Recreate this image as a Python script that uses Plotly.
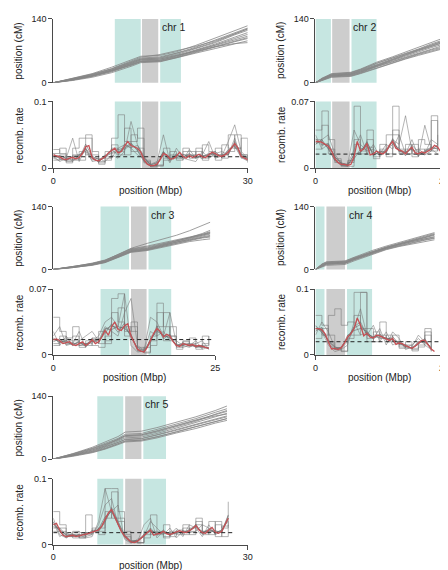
import numpy as np
import plotly.graph_objects as go

# ---------------- DATA ----------------
# genetic map position (cM) vs physical position (Mbp), several maps per chromosome
chr1_map_x = [0, 3, 6, 9, 12, 13.5, 16.5, 19, 22, 25, 28, 30]
chr1_maps = [
    [0, 8, 18, 30, 45, 52, 54, 62, 75, 88, 105, 115],
    [0, 6, 14, 25, 40, 47, 49, 58, 70, 82, 95, 102],
    [0, 10, 20, 34, 50, 58, 60, 68, 82, 98, 115, 125],
    [0, 7, 16, 27, 42, 50, 52, 60, 72, 85, 100, 110],
    [0, 5, 12, 22, 36, 44, 46, 54, 65, 75, 86, 92],
    [0, 9, 19, 31, 48, 56, 62, 70, 80, 92, 108, 118],
    [0, 6, 15, 26, 38, 46, 47, 55, 67, 78, 90, 97],
    [0, 7, 15, 28, 43, 50, 52, 59, 69, 79, 86, 88],
    [0, 8, 17, 28, 44, 52, 55, 64, 76, 90, 106, 118],
    [0, 7, 15, 26, 41, 48, 50, 57, 71, 83, 97, 106],
    [0, 9, 18, 30, 46, 54, 57, 65, 78, 94, 110, 120],
    [0, 6, 14, 24, 39, 46, 48, 56, 68, 80, 92, 99],
]
chr2_map_x = [0, 1, 2.5, 4, 5.5, 7, 9.5, 12, 14, 16, 18, 19.7]
chr2_maps = [
    [0, 8, 17, 18, 20, 27, 40, 52, 62, 72, 82, 90],
    [0, 6, 14, 15, 16, 22, 35, 46, 55, 64, 72, 78],
    [0, 10, 20, 21, 23, 30, 45, 57, 67, 77, 88, 97],
    [0, 7, 15, 16, 18, 24, 37, 49, 58, 68, 77, 84],
    [0, 5, 12, 13, 14, 20, 32, 43, 52, 60, 68, 74],
    [0, 9, 19, 20, 22, 29, 43, 55, 64, 74, 85, 93],
    [0, 7, 16, 17, 19, 25, 38, 50, 60, 70, 80, 87],
    [0, 8, 18, 19, 21, 28, 42, 54, 63, 73, 83, 91],
    [0, 6, 15, 16, 17, 23, 36, 47, 56, 66, 75, 81],
    [0, 9, 17, 18, 19, 26, 39, 51, 61, 71, 81, 88],
    [0, 5, 13, 14, 15, 21, 33, 44, 53, 62, 70, 76],
]
chr3_map_x = [0, 3, 6, 8, 10, 12, 14.5, 17, 19, 21, 23, 24.2]
chr3_maps = [
    [0, 5, 12, 18, 30, 42, 46, 55, 62, 70, 78, 84],
    [0, 4, 10, 16, 27, 39, 43, 51, 58, 65, 72, 76],
    [0, 6, 14, 21, 33, 46, 52, 60, 66, 72, 78, 82],
    [0, 5, 11, 17, 28, 40, 44, 52, 58, 64, 70, 72],
    [0, 6, 13, 20, 33, 47, 58, 68, 76, 86, 98, 105],
    [0, 4, 9, 15, 26, 38, 42, 50, 56, 62, 66, 68],
    [0, 5, 12, 19, 31, 44, 48, 57, 64, 71, 80, 87],
    [0, 5, 11, 17, 29, 41, 45, 53, 60, 67, 74, 79],
    [0, 6, 13, 20, 32, 45, 50, 58, 64, 70, 76, 80],
    [0, 4, 10, 16, 28, 40, 44, 53, 60, 68, 76, 82],
    [0, 5, 12, 18, 30, 43, 47, 55, 61, 66, 71, 74],
]
chr4_map_x = [0, 1, 1.7, 3, 4.6, 6, 8.8, 11, 13, 15, 17, 18.5]
chr4_maps = [
    [0, 10, 14, 15, 16, 24, 38, 48, 56, 63, 70, 76],
    [0, 8, 12, 13, 14, 22, 36, 46, 53, 60, 66, 70],
    [0, 12, 17, 18, 19, 27, 42, 52, 60, 68, 75, 82],
    [0, 9, 13, 14, 15, 23, 37, 47, 55, 62, 68, 73],
    [0, 6, 9, 10, 11, 19, 34, 44, 51, 57, 62, 66],
    [0, 11, 16, 17, 18, 26, 40, 50, 58, 66, 74, 80],
    [0, 9, 14, 15, 16, 24, 39, 49, 57, 64, 71, 78],
    [0, 7, 11, 12, 13, 21, 35, 45, 52, 59, 65, 69],
    [0, 11, 15, 16, 17, 25, 39, 49, 57, 65, 72, 78],
    [0, 8, 12, 13, 14, 22, 37, 47, 55, 62, 68, 72],
]
chr5_map_x = [0, 3, 6, 8, 10, 11.1, 13.6, 16, 19, 22, 25, 26.8]
chr5_maps = [
    [0, 10, 22, 32, 42, 50, 52, 60, 72, 84, 100, 108],
    [0, 7, 16, 24, 34, 40, 42, 50, 60, 72, 84, 90],
    [0, 12, 26, 38, 50, 60, 62, 70, 82, 94, 108, 118],
    [0, 8, 18, 27, 37, 44, 46, 54, 66, 78, 90, 96],
    [0, 6, 14, 22, 32, 38, 40, 47, 58, 68, 80, 86],
    [0, 9, 20, 30, 44, 52, 54, 62, 74, 86, 96, 100],
    [0, 11, 24, 35, 46, 55, 57, 66, 78, 90, 104, 112],
    [0, 9, 20, 29, 40, 47, 49, 57, 69, 81, 94, 102],
    [0, 8, 17, 26, 36, 43, 45, 53, 64, 76, 88, 94],
    [0, 11, 23, 33, 44, 52, 54, 63, 75, 88, 100, 106],
    [0, 7, 15, 23, 33, 40, 42, 49, 61, 72, 84, 90],
]

# recombination rate, individual maps (1 Mbp spacing, starting at 0)
chr1_rate_gray = [
    [.028,.022,.012,.030,.045,.050,.020,.008,.015,.045,.080,.040,.050,.045,.010,.002,.003,.030,.018,.015,.025,.020,.030,.015,.022,.018,.035,.030,.050,.020,.010],
    [.015,.012,.018,.010,.020,.025,.012,.015,.010,.020,.015,.025,.070,.035,.018,.005,.008,.050,.010,.022,.012,.028,.015,.020,.040,.015,.018,.040,.065,.025,.015],
    [.022,.030,.008,.020,.012,.045,.025,.010,.025,.030,.020,.060,.025,.030,.008,.003,.004,.015,.020,.012,.020,.015,.025,.012,.018,.030,.015,.025,.030,.045,.012],
    [.018,.010,.015,.045,.010,.030,.010,.012,.020,.015,.030,.035,.030,.020,.015,.006,.010,.025,.008,.030,.015,.012,.010,.025,.015,.022,.025,.020,.045,.015,.018],
    [.012,.020,.010,.012,.025,.020,.015,.006,.012,.035,.025,.020,.040,.060,.012,.004,.005,.012,.025,.018,.030,.025,.020,.035,.025,.012,.020,.050,.030,.020,.008],
    [.022,.014,.011,.018,.020,.028,.014,.010,.019,.024,.028,.030,.038,.026,.010,.003,.005,.024,.012,.020,.016,.022,.015,.019,.018,.025,.016,.028,.033,.016,.011],
    [.017,.019,.015,.013,.014,.036,.018,.013,.015,.029,.019,.036,.031,.034,.016,.005,.008,.019,.016,.015,.021,.017,.020,.014,.023,.019,.021,.020,.040,.021,.015],
    [.019,.016,.012,.017,.017,.030,.017,.009,.018,.022,.025,.028,.036,.028,.012,.004,.004,.025,.013,.019,.017,.020,.017,.018,.021,.021,.017,.026,.035,.019,.014],
]
chr2_rate_gray = [
    [.040,.060,.030,.008,.003,.002,.065,.020,.030,.015,.020,.035,.065,.020,.015,.025,.015,.020,.050,.020],
    [.025,.030,.035,.015,.005,.004,.020,.035,.015,.025,.012,.020,.030,.025,.055,.018,.020,.015,.030,.025],
    [.020,.045,.015,.010,.002,.006,.030,.015,.040,.010,.018,.015,.040,.015,.020,.012,.030,.025,.018,.035],
    [.035,.020,.025,.012,.006,.003,.040,.025,.018,.020,.015,.025,.020,.035,.015,.030,.012,.045,.020,.015],
    [.030,.025,.020,.006,.004,.008,.025,.018,.022,.012,.025,.012,.035,.018,.025,.015,.020,.018,.055,.018],
    [.025,.030,.020,.008,.003,.002,.015,.016,.028,.013,.018,.016,.031,.017,.017,.020,.013,.018,.022,.020],
    [.031,.024,.026,.012,.005,.004,.010,.020,.023,.017,.014,.020,.025,.021,.013,.024,.017,.014,.018,.025],
    [.027,.028,.021,.009,.004,.003,.014,.017,.027,.014,.017,.017,.029,.018,.016,.021,.014,.017,.021,.021],
]
chr3_rate_gray = [
    [.040,.025,.015,.020,.012,.010,.018,.012,.020,.060,.065,.030,.025,.004,.002,.020,.055,.030,.020,.010,.015,.012,.008,.010,.012],
    [.020,.030,.010,.012,.025,.008,.015,.020,.035,.040,.030,.065,.010,.003,.004,.040,.035,.020,.045,.012,.008,.010,.015,.006,.008],
    [.012,.015,.018,.030,.010,.015,.010,.008,.015,.030,.050,.025,.035,.008,.003,.015,.030,.045,.020,.008,.012,.018,.010,.012,.020],
    [.025,.010,.020,.010,.015,.020,.025,.015,.030,.025,.020,.045,.060,.010,.005,.025,.020,.025,.015,.015,.010,.008,.012,.015,.006],
    [.010,.020,.012,.015,.008,.012,.015,.025,.012,.045,.035,.020,.030,.006,.008,.010,.045,.015,.030,.006,.014,.010,.006,.020,.010],
    [.018,.013,.015,.010,.014,.009,.018,.012,.028,.027,.030,.028,.022,.005,.003,.017,.025,.021,.018,.011,.010,.012,.008,.010,.006],
    [.014,.017,.011,.013,.010,.012,.014,.016,.023,.033,.024,.034,.018,.008,.004,.013,.031,.017,.022,.009,.013,.009,.010,.008,.008],
    [.017,.014,.014,.012,.013,.011,.015,.013,.027,.031,.028,.030,.021,.006,.003,.016,.027,.020,.019,.010,.011,.011,.009,.009,.007],
]
chr4_rate_gray = [
    [.060,.045,.020,.008,.005,.030,.095,.095,.040,.030,.050,.020,.030,.015,.010,.008,.020,.040,.010],
    [.030,.050,.035,.012,.010,.020,.040,.070,.030,.045,.020,.035,.015,.020,.012,.015,.025,.015,.008],
    [.040,.030,.060,.070,.045,.050,.060,.040,.025,.020,.030,.025,.020,.010,.020,.010,.015,.030,.006],
    [.045,.035,.015,.005,.008,.015,.050,.030,.035,.025,.040,.015,.035,.025,.008,.012,.030,.020,.012],
    [.025,.040,.030,.010,.006,.025,.030,.095,.020,.035,.025,.030,.020,.012,.015,.006,.012,.035,.005],
    [.036,.042,.018,.008,.012,.025,.043,.050,.030,.028,.026,.026,.022,.020,.012,.011,.016,.025,.008],
    [.044,.034,.023,.012,.009,.030,.037,.040,.036,.024,.032,.022,.028,.016,.016,.009,.020,.019,.010],
    [.040,.037,.021,.010,.011,.027,.041,.046,.032,.027,.029,.025,.024,.018,.013,.010,.019,.023,.009],
]
chr5_rate_gray = [
    [.050,.030,.012,.015,.010,.045,.020,.015,.085,.085,.050,.015,.004,.002,.010,.045,.020,.012,.020,.015,.030,.020,.040,.015,.020,.035,.025,.065],
    [.040,.015,.010,.018,.020,.012,.015,.030,.060,.070,.030,.010,.003,.004,.030,.040,.010,.020,.015,.025,.012,.030,.025,.012,.030,.015,.020,.045],
    [.020,.025,.015,.010,.012,.018,.025,.020,.040,.080,.040,.020,.006,.003,.015,.020,.015,.030,.012,.018,.025,.015,.035,.020,.015,.030,.012,.030],
    [.035,.012,.018,.012,.015,.010,.012,.035,.085,.050,.060,.008,.002,.008,.012,.035,.025,.015,.025,.010,.020,.018,.020,.030,.025,.018,.022,.040],
    [.025,.020,.014,.020,.010,.015,.022,.025,.050,.040,.035,.012,.005,.003,.020,.015,.018,.010,.018,.022,.015,.025,.030,.018,.035,.012,.028,.035],
    [.034,.020,.010,.016,.012,.018,.017,.024,.042,.050,.030,.012,.003,.004,.016,.020,.018,.018,.017,.016,.021,.019,.031,.016,.024,.017,.022,.036],
    [.027,.025,.014,.012,.015,.014,.021,.020,.034,.056,.035,.015,.005,.006,.012,.025,.014,.022,.013,.020,.017,.023,.027,.020,.020,.021,.018,.044],
    [.031,.022,.012,.014,.013,.017,.019,.023,.037,.052,.033,.013,.004,.005,.014,.022,.016,.020,.015,.018,.019,.021,.029,.018,.022,.019,.020,.040],
]

# mean recombination rate (0.5 Mbp spacing, starting at 0)
chr1_rate_mean = [.020,.019,.017,.014,.013,.015,.016,.014,.016,.022,
                  .032,.034,.016,.012,.011,.014,.017,.023,.026,.030,
                  .023,.025,.033,.040,.034,.032,.030,.024,.013,.006,
                  .004,.004,.006,.013,.022,.020,.014,.014,.018,.024,
                  .018,.015,.019,.016,.018,.021,.017,.016,.020,.024,
                  .022,.019,.018,.020,.024,.030,.037,.030,.018,.015,
                  .013]
chr2_rate_mean = [.028,.028,.027,.025,.023,.018,.010,.006,.004,.004,
                  .003,.004,.012,.028,.018,.020,.026,.014,.015,.018,
                  .016,.015,.018,.024,.028,.021,.019,.018,.015,.019,
                  .022,.016,.015,.017,.016,.018,.020,.024,.022,.017]
chr3_rate_mean = [.016,.017,.015,.012,.013,.014,.011,.010,.012,.014,
                  .010,.012,.016,.012,.014,.019,.026,.021,.030,.035,
                  .027,.026,.031,.033,.020,.012,.006,.004,.003,.008,
                  .015,.023,.028,.025,.019,.022,.020,.014,.010,.009,
                  .012,.011,.010,.011,.009,.010,.009,.008,.007]
chr4_rate_mean = [.040,.040,.038,.032,.020,.009,.010,.008,.011,.018,
                  .027,.032,.040,.056,.045,.029,.033,.027,.026,.030,
                  .029,.027,.024,.022,.025,.016,.018,.017,.014,.012,
                  .010,.013,.018,.022,.022,.015,.009,.005]
chr5_rate_mean = [.030,.032,.022,.014,.012,.013,.014,.012,.013,.015,
                  .016,.017,.019,.020,.022,.028,.038,.048,.053,.042,
                  .032,.020,.013,.008,.004,.003,.005,.009,.014,.018,
                  .022,.014,.016,.017,.020,.016,.015,.017,.018,.021,
                  .019,.018,.021,.024,.029,.022,.018,.017,.022,.026,
                  .019,.017,.020,.030,.040]

# genome-wide average rate (dashed line)
genome_mean_rate = [0.0172, 0.0148, 0.0163, 0.020, 0.018]

# pericentromeric (teal) and centromeric (gray) intervals, Mbp
peri_regions = [
    [[9.5, 13.5], [16.5, 19.7]],
    [[0, 2.4], [5.6, 9.5]],
    [[7.3, 11.7], [14.7, 18.2]],
    [[0, 1.4], [4.9, 8.8]],
    [[6.8, 10.8], [13.9, 17.4]],
]
cen_regions = [[13.7, 16.2], [2.6, 5.3], [12.0, 14.4], [1.7, 4.6], [11.1, 13.6]]

chrom_names = ["chr 1", "chr 2", "chr 3", "chr 4", "chr 5"]
x_max = [30, 20, 25, 20, 30]
rate_max = [0.1, 0.07, 0.07, 0.1, 0.1]
rate_max_label = ["0.1", "0.07", "0.07", "0.1", "0.1"]
map_max = 140

map_xs = [chr1_map_x, chr2_map_x, chr3_map_x, chr4_map_x, chr5_map_x]
maps = [chr1_maps, chr2_maps, chr3_maps, chr4_maps, chr5_maps]
rate_grays = [chr1_rate_gray, chr2_rate_gray, chr3_rate_gray, chr4_rate_gray, chr5_rate_gray]
rate_means = [chr1_rate_mean, chr2_rate_mean, chr3_rate_mean, chr4_rate_mean, chr5_rate_mean]
GRAY_STEP = 1.0
MEAN_STEP = 0.5

# ---------------- LAYOUT (pixels) ----------------
W, H = 448, 570
panels = [
    dict(x0=43, x1=241, top=(6, 71), bot=(90, 158)),
    dict(x0=310, x1=441, top=(6, 71), bot=(90, 158)),
    dict(x0=43, x1=208, top=(197, 261), bot=(281, 348)),
    dict(x0=310, x1=441, top=(197, 261), bot=(281, 348)),
    dict(x0=43, x1=241, top=(390, 454), bot=(474, 541)),
]
xlabel_offset = [23, 23, 23, 23, 21]

FONT = "Liberation Sans, Arial, Helvetica, sans-serif"
AX_COL = "#4a4a4a"
TEAL = "#c6e6e1"
CEN = "#cdcdcd"
MAP_GRAY = "rgb(135,135,135)"
RED = "rgb(196,80,84)"


def px2x(p):
    return p / W


def px2y(p):
    return 1 - p / H


def nm(prefix, i):
    return prefix if i == 1 else f"{prefix}{i}"


fig = go.Figure()
layout = dict(width=W, height=H, margin=dict(l=0, r=0, t=0, b=0), autosize=False,
              paper_bgcolor="white", plot_bgcolor="white", showlegend=False,
              font=dict(family=FONT, size=10, color="#222"))
shapes = []
annotations = []

tickf = dict(size=9, family=FONT, color="#222")
titlef = dict(size=10, family=FONT, color="#222")
chrf = dict(size=10.5, family=FONT, color="#222")

for c in range(5):
    p = panels[c]
    xi = c + 1
    yt = 2 * c + 1
    yb = 2 * c + 2
    xref = nm("x", xi)
    ytref = nm("y", yt)
    ybref = nm("y", yb)

    layout[nm("xaxis", xi)] = dict(
        domain=[px2x(p["x0"]), px2x(p["x1"])], range=[0, x_max[c]], anchor=ybref,
        showline=True, linecolor=AX_COL, linewidth=1, ticks="outside", ticklen=4,
        tickcolor=AX_COL, tickvals=[0, x_max[c]], ticktext=["0", str(x_max[c])],
        showgrid=False, zeroline=False, tickfont=tickf)
    layout[nm("yaxis", yt)] = dict(
        domain=[px2y(p["top"][1]), px2y(p["top"][0])], range=[0, map_max], anchor=xref,
        showline=True, linecolor=AX_COL, linewidth=1, ticks="outside", ticklen=4,
        tickcolor=AX_COL, tickvals=[0, map_max], ticktext=["0", str(map_max)],
        showgrid=False, zeroline=False, tickfont=tickf)
    layout[nm("yaxis", yb)] = dict(
        domain=[px2y(p["bot"][1]), px2y(p["bot"][0])], range=[0, rate_max[c]], anchor=xref,
        showline=True, linecolor=AX_COL, linewidth=1, ticks="outside", ticklen=4,
        tickcolor=AX_COL, tickvals=[0, rate_max[c]], ticktext=["0", rate_max_label[c]],
        showgrid=False, zeroline=False, tickfont=tickf)

    # shading
    for yr in (ytref, ybref):
        for (a, b) in peri_regions[c]:
            shapes.append(dict(type="rect", xref=xref, yref=f"{yr} domain", x0=a, x1=b,
                               y0=0, y1=1, fillcolor=TEAL, line=dict(width=0), layer="below"))
        a, b = cen_regions[c]
        shapes.append(dict(type="rect", xref=xref, yref=f"{yr} domain", x0=a, x1=b,
                           y0=0, y1=1, fillcolor=CEN, line=dict(width=0), layer="below"))

    # genetic maps
    for m in maps[c]:
        fig.add_trace(go.Scatter(x=map_xs[c], y=m, mode="lines", xaxis=xref, yaxis=ytref,
                                 line=dict(color=MAP_GRAY, width=0.8), hoverinfo="skip"))

    # individual rates
    for k, g in enumerate(rate_grays[c]):
        gx = np.arange(len(g)) * GRAY_STEP
        if k < 5:
            st = dict(color="rgba(120,120,120,0.7)", width=0.8,
                      shape="hv" if k % 2 == 0 else "linear")
        else:
            st = dict(color="rgba(110,110,110,0.8)", width=0.8, shape="linear")
        fig.add_trace(go.Scatter(x=gx, y=g, mode="lines", xaxis=xref, yaxis=ybref,
                                 line=st, hoverinfo="skip"))

    # genome-wide mean (dashed)
    mx = np.arange(len(rate_means[c])) * MEAN_STEP
    x_end = min(mx[-1] + 0.8, x_max[c])
    fig.add_trace(go.Scatter(x=[0, x_end], y=[genome_mean_rate[c]] * 2, mode="lines",
                             xaxis=xref, yaxis=ybref,
                             line=dict(color="#222", width=1, dash="4px,3px"), hoverinfo="skip"))
    # mean rate (red)
    fig.add_trace(go.Scatter(x=mx, y=rate_means[c], mode="lines", xaxis=xref, yaxis=ybref,
                             line=dict(color=RED, width=1.3), hoverinfo="skip"))

    # labels
    annotations.append(dict(text="position (cM)", xref="paper", yref="paper",
                            x=px2x(p["x0"] - 35), y=px2y((p["top"][0] + p["top"][1]) / 2),
                            textangle=-90, showarrow=False, xanchor="center", yanchor="middle",
                            font=titlef))
    annotations.append(dict(text="recomb. rate", xref="paper", yref="paper",
                            x=px2x(p["x0"] - 34), y=px2y((p["bot"][0] + p["bot"][1]) / 2),
                            textangle=-90, showarrow=False, xanchor="center", yanchor="middle",
                            font=titlef))
    annotations.append(dict(text="position (Mbp)", xref="paper", yref="paper",
                            x=px2x((p["x0"] + p["x1"]) / 2), y=px2y(p["bot"][1] + xlabel_offset[c]),
                            showarrow=False, xanchor="center", yanchor="middle",
                            font=titlef))
    annotations.append(dict(text=chrom_names[c], xref=xref, yref=f"{ytref} domain",
                            x=peri_regions[c][1][0], y=1, xanchor="left", yanchor="top",
                            showarrow=False, font=chrf))

layout["shapes"] = shapes
layout["annotations"] = annotations
fig.update_layout(**layout)
fig.write_html("out.html")
